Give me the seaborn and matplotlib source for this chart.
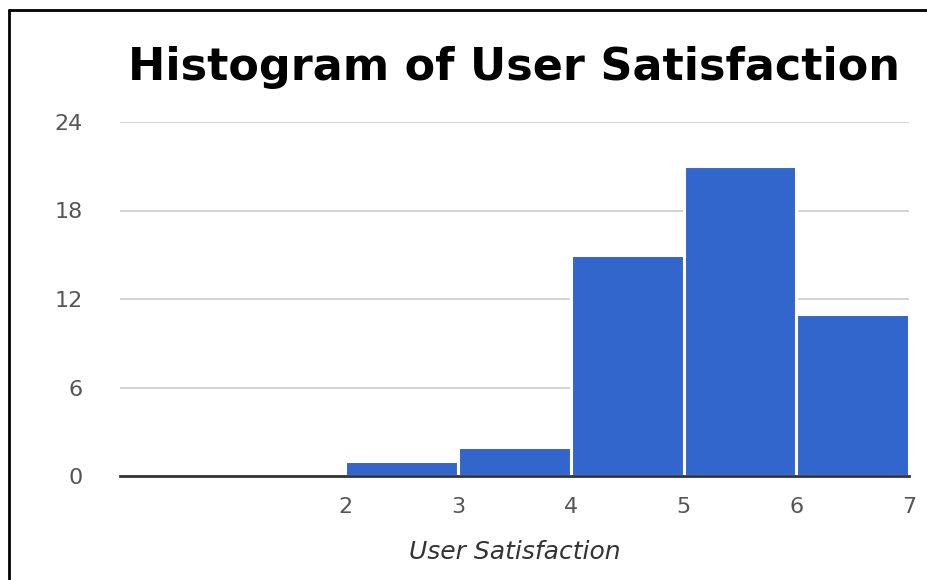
import matplotlib
matplotlib.use("Agg")
import matplotlib.pyplot as plt
from matplotlib.lines import Line2D
import seaborn as sns
import pandas as pd

# Satisfaction score bins (left edge) and number of users in each bin
bin_starts = [2, 3, 4, 5, 6]
user_counts = [1, 2, 15, 21, 11]
bin_edges = [2, 3, 4, 5, 6, 7]
y_ticks = [0, 6, 12, 18, 24]
x_ticks = [2, 3, 4, 5, 6, 7]

df = pd.DataFrame({"score": bin_starts, "count": user_counts})

sns.set_theme(style="white")
plt.rcParams["font.family"] = ["DejaVu Sans"]

W, H = 927, 580
fig = plt.figure(figsize=(W / 100, H / 100), dpi=100)
ax = fig.add_axes([120 / W, (H - 476) / H, (909 - 120) / W, (476 - 122) / H])

sns.histplot(data=df, x="score", weights="count", bins=bin_edges,
             color="#3366CC", alpha=1.0, edgecolor="white", linewidth=2.2,
             ax=ax, zorder=3)

ax.set_xlim(0, 7)
ax.set_ylim(0, 24)
ax.set_yticks(y_ticks)
ax.set_xticks(x_ticks)
ax.yaxis.grid(True, color="#cccccc", linewidth=1.2, zorder=0)
ax.xaxis.grid(False)
for side in ["top", "right", "left"]:
    ax.spines[side].set_visible(False)
ax.spines["bottom"].set_color("#333333")
ax.spines["bottom"].set_linewidth(2)
ax.spines["bottom"].set_zorder(4)
ax.tick_params(axis="y", length=0, pad=27, labelsize=16, labelcolor="#555555")
ax.tick_params(axis="x", length=0, pad=15, labelsize=16, labelcolor="#555555")
ax.set_ylabel("")
ax.set_xlabel("User Satisfaction", fontsize=18, style="italic",
              color="#333333", labelpad=17)

fig.text((120 + 909) / 2 / W, 1 - 80 / H, "Histogram of User Satisfaction",
         ha="center", va="baseline", fontsize=32, fontweight="bold",
         color="#000000")

# Frame lines along the top and left edges
fig.add_artist(Line2D([9 / W, 1.0], [1 - 10 / H, 1 - 10 / H],
                      transform=fig.transFigure, color="black", linewidth=2))
fig.add_artist(Line2D([9 / W, 9 / W], [0.0, 1 - 10 / H],
                      transform=fig.transFigure, color="black", linewidth=2))

fig.savefig("out.png", dpi=100, facecolor="white")
